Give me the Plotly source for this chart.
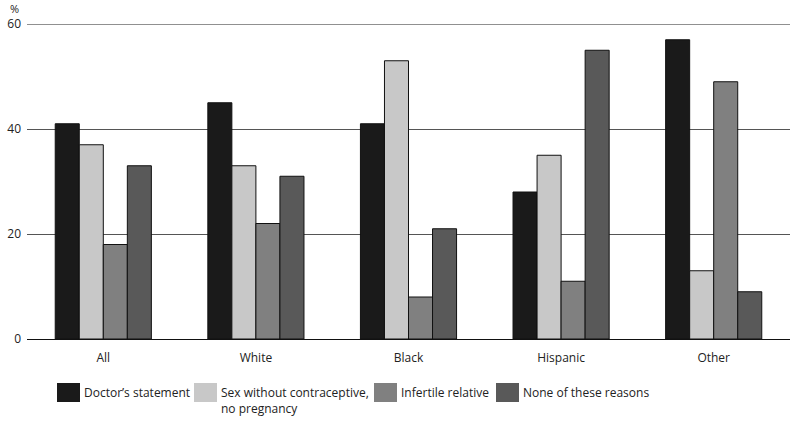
import plotly.graph_objects as go

categories = ["All", "White", "Black", "Hispanic", "Other"]
series_names = ["Doctor’s statement", "Sex without contraceptive,<br>no pregnancy",
                "Infertile relative", "None of these reasons"]
doctor = [41, 45, 41, 28, 57]
sex_no_preg = [37, 33, 53, 35, 13]
infertile = [18, 22, 8, 11, 49]
none_reasons = [33, 31, 21, 55, 9]
colors = ["#1a1a1a", "#c8c8c8", "#808080", "#595959"]
y_ticks = [0, 20, 40, 60]

FONT = "Open Sans"
FS = 12
W, H = 800, 422
# target plot area in page pixels: x 27..790, y 24..339
L = 27
R = W - 790
T = 24
B = H - 339

fig = go.Figure()
for name, vals, col in zip(series_names, [doctor, sex_no_preg, infertile, none_reasons], colors):
    fig.add_trace(go.Bar(x=categories, y=vals, name=name, marker_color=col,
                         marker_line_color="#111", marker_line_width=1, showlegend=False))

fig.update_layout(
    width=W, height=H, autosize=False,
    margin=dict(l=L, r=R, t=T, b=B),
    plot_bgcolor="white", paper_bgcolor="white",
    barmode="group", bargap=0.37, bargroupgap=0,
    font=dict(family=FONT, size=FS, color="#222"),
    xaxis=dict(showgrid=False, ticks="", showline=False, zeroline=False, automargin=False,
               tickfont=dict(size=FS, family=FONT), range=[-0.5, 4.5], ticklabelstandoff=10),
    yaxis=dict(range=[0, 60], tickvals=y_ticks, showgrid=True, gridcolor="#555", gridwidth=1,
               zeroline=True, zerolinecolor="#111", zerolinewidth=1.2, showline=False,
               automargin=False, ticks="", tickfont=dict(size=FS, family=FONT),
               ticklabelstandoff=5),
)

pw = W - L - R
ph = H - T - B
def px_x(x):
    return (x - L) / pw
def px_y(y):
    return (H - B - y) / ph

# top line at 60 (drawn on the edge of the plot area)
fig.add_shape(type="line", xref="paper", yref="y", x0=0, x1=1, y0=60, y1=60,
              line=dict(color="#222", width=1.2), layer="below")

fig.add_annotation(text="%", xref="paper", yref="paper", x=px_x(20), y=px_y(0),
                   xanchor="right", yanchor="top", showarrow=False, borderpad=0,
                   font=dict(size=11, family=FONT))

legend_items = [(57, series_names[0]), (194, series_names[1]), (374, series_names[2]), (496, series_names[3])]
for (x0, name), col in zip(legend_items, colors):
    fig.add_shape(type="rect", xref="paper", yref="paper",
                  x0=px_x(x0), x1=px_x(x0 + 23), y0=px_y(402), y1=px_y(383),
                  fillcolor=col, line=dict(width=0))
    fig.add_annotation(text=name, xref="paper", yref="paper", x=px_x(x0 + 25), y=px_y(382),
                       xanchor="left", yanchor="top", align="left", showarrow=False,
                       font=dict(size=FS, family=FONT, color="#222"))

fig.write_html("out.html", config={"displayModeBar": False},
               post_script="document.body.style.margin='0';document.body.style.overflow='hidden';")
